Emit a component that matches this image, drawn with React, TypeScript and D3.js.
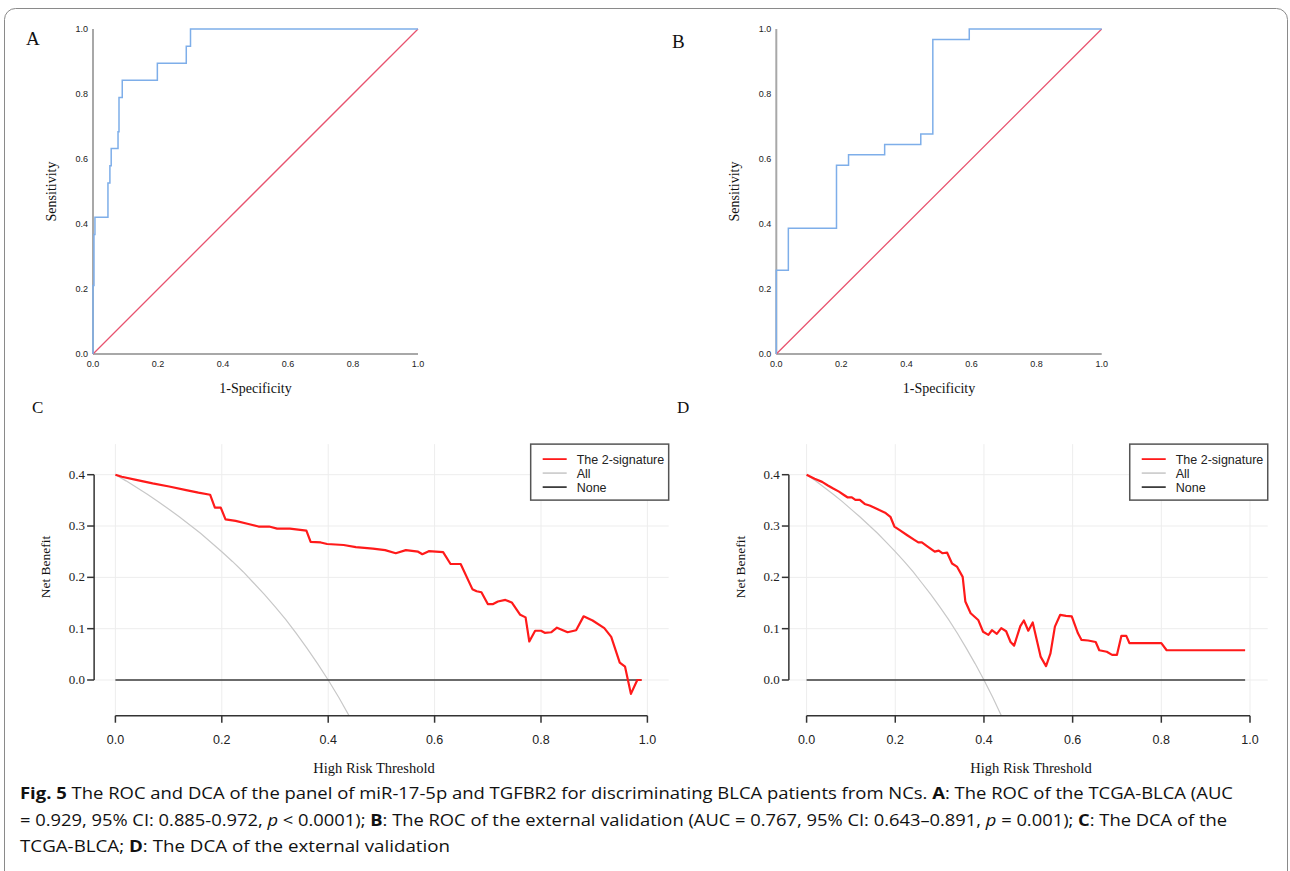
import React from "react";
import * as d3 from "d3";

const W = 1290;
const H = 871;
const SERIF = "'Liberation Serif', 'Times New Roman', serif";
const SANS = "'Liberation Sans', Arial, sans-serif";

// ROC corner points: 1-specificity / sensitivity
const rocAFpr = [0, 0, 0.003, 0.006, 0.046, 0.052, 0.056, 0.077, 0.08, 0.09, 0.198, 0.287, 0.3, 1.0];
const rocATpr = [0, 0.211, 0.368, 0.421, 0.526, 0.579, 0.632, 0.684, 0.789, 0.842, 0.895, 0.947, 1.0, 1.0];
const rocBFpr = [0, 0, 0.037, 0.185, 0.222, 0.333, 0.444, 0.481, 0.593, 1.0];
const rocBTpr = [0, 0.258, 0.387, 0.581, 0.613, 0.645, 0.677, 0.968, 1.0, 1.0];
const rocTicks = [0, 0.2, 0.4, 0.6, 0.8, 1.0];

// DCA, TCGA-BLCA
const dcaCThr = [0, 0.012, 0.039, 0.07, 0.101, 0.133, 0.156, 0.178, 0.187, 0.198, 0.207, 0.226, 0.25, 0.269, 0.289, 0.304, 0.328, 0.359, 0.367, 0.386, 0.398, 0.429, 0.452, 0.484, 0.507, 0.527, 0.546, 0.569, 0.577, 0.589, 0.616, 0.63, 0.649, 0.671, 0.679, 0.688, 0.7, 0.71, 0.719, 0.733, 0.745, 0.761, 0.771, 0.778, 0.789, 0.8, 0.807, 0.819, 0.83, 0.85, 0.866, 0.88, 0.897, 0.919, 0.932, 0.948, 0.958, 0.969, 0.981, 0.989];
const dcaCNb = [0.4, 0.396, 0.39, 0.383, 0.377, 0.37, 0.365, 0.361, 0.336, 0.336, 0.313, 0.31, 0.304, 0.299, 0.299, 0.295, 0.295, 0.291, 0.269, 0.268, 0.265, 0.263, 0.259, 0.256, 0.253, 0.247, 0.253, 0.25, 0.245, 0.251, 0.249, 0.226, 0.226, 0.177, 0.173, 0.171, 0.148, 0.148, 0.153, 0.156, 0.151, 0.127, 0.122, 0.075, 0.096, 0.096, 0.092, 0.093, 0.102, 0.093, 0.097, 0.124, 0.116, 0.101, 0.084, 0.034, 0.026, -0.027, 0.0, 0.0];

// DCA, external validation
const dcaDThr = [0, 0.018, 0.035, 0.048, 0.06, 0.073, 0.085, 0.092, 0.102, 0.11, 0.12, 0.131, 0.142, 0.152, 0.164, 0.177, 0.189, 0.198, 0.21, 0.227, 0.243, 0.252, 0.26, 0.273, 0.289, 0.298, 0.306, 0.317, 0.328, 0.339, 0.352, 0.358, 0.37, 0.387, 0.398, 0.41, 0.418, 0.429, 0.439, 0.45, 0.46, 0.468, 0.482, 0.49, 0.5, 0.51, 0.528, 0.54, 0.55, 0.56, 0.572, 0.585, 0.598, 0.612, 0.62, 0.635, 0.652, 0.66, 0.677, 0.689, 0.7, 0.71, 0.721, 0.728, 0.8, 0.812, 0.989];
const dcaDNb = [0.4, 0.392, 0.386, 0.379, 0.373, 0.367, 0.36, 0.356, 0.356, 0.351, 0.351, 0.343, 0.34, 0.336, 0.331, 0.326, 0.318, 0.299, 0.292, 0.282, 0.273, 0.268, 0.268, 0.26, 0.25, 0.252, 0.247, 0.248, 0.227, 0.221, 0.201, 0.153, 0.13, 0.117, 0.094, 0.088, 0.097, 0.09, 0.101, 0.095, 0.074, 0.067, 0.105, 0.116, 0.096, 0.112, 0.045, 0.027, 0.052, 0.104, 0.127, 0.125, 0.124, 0.091, 0.078, 0.077, 0.074, 0.058, 0.055, 0.049, 0.049, 0.086, 0.086, 0.072, 0.072, 0.058, 0.058];

// "All" (treat everyone) curve, same in both panels
const allThr = [0, 0.02, 0.04, 0.06, 0.08, 0.1, 0.12, 0.14, 0.16, 0.18, 0.2, 0.22, 0.24, 0.26, 0.28, 0.3, 0.32, 0.34, 0.36, 0.38, 0.4, 0.42, 0.44, 0.46];
const allNb = [0.4, 0.388, 0.375, 0.362, 0.348, 0.333, 0.318, 0.302, 0.286, 0.268, 0.25, 0.231, 0.211, 0.189, 0.167, 0.143, 0.118, 0.091, 0.062, 0.032, 0.0, -0.034, -0.071, -0.111];
const noneThr = [0, 0.989];
const noneNb = [0, 0];

const dcaXTicks = [0, 0.2, 0.4, 0.6, 0.8, 1.0];
const dcaYTicks = [0, 0.1, 0.2, 0.3, 0.4];
const legendNames = ["The 2-signature", "All", "None"];
const legendColors = ["#ff1a1a", "#cfcfcf", "#3d3d3d"];

const fmt = d3.format(".1f");

function RocPanel({ x0, x1, y0, y1, fpr, tpr, label, lx, ly }) {
  const x = d3.scaleLinear().domain([0, 1]).range([x0, x1]);
  const y = d3.scaleLinear().domain([0, 1]).range([y0, y1]);
  const pts = fpr.map((f, i) => [f, tpr[i]]);
  const roc = d3.line().x((d) => x(d[0])).y((d) => y(d[1])).curve(d3.curveStepAfter)(pts);
  const diag = d3.line().x((d) => x(d)).y((d) => y(d))([0, 1]);
  return (
    <g>
      <text x={lx} y={ly} fontFamily={SERIF} fontSize={19} fill="#111">{label}</text>
      <line x1={x0} x2={x0} y1={y1} y2={y0} stroke="#a8a8a8" strokeWidth={2} />
      <line x1={x0} x2={x1} y1={y0} y2={y0} stroke="#a8a8a8" strokeWidth={2} />
      {rocTicks.map((t) => (
        <text key={"y" + t} x={x0 - 5} y={y(t) + 3} textAnchor="end" fontFamily={SANS} fontSize={9} fill="#222">{fmt(t)}</text>
      ))}
      {rocTicks.map((t) => (
        <text key={"x" + t} x={x(t)} y={y0 + 13} textAnchor="middle" fontFamily={SANS} fontSize={9} fill="#222">{fmt(t)}</text>
      ))}
      <path d={diag} stroke="#e8536f" strokeWidth={1.3} fill="none" />
      <path d={roc} stroke="#7eaee9" strokeWidth={1.5} fill="none" />
      <text x={(x0 + x1) / 2} y={y0 + 39} textAnchor="middle" fontFamily={SERIF} fontSize={14} fill="#111">1-Specificity</text>
      <text transform={`translate(${x0 - 37},${(y0 + y1) / 2}) rotate(-90)`} textAnchor="middle" fontFamily={SERIF} fontSize={14} fill="#111">Sensitivity</text>
    </g>
  );
}

function DcaPanel({ x0, x1, thr, nb, label, lx, ly, id, titleX }) {
  const x = d3.scaleLinear().domain([0, 1]).range([x0, x1]);
  const y = d3.scaleLinear().domain([0, 0.4]).range([680, 474.7]);
  const left = x(-0.04);
  const right = x(1.04);
  const top = y(0.4596);
  const bottom = y(-0.0696);
  const ln = d3.line().x((d) => x(d[0])).y((d) => y(d[1]));
  const model = ln(thr.map((t, i) => [t, nb[i]]));
  const all = ln(allThr.map((t, i) => [t, allNb[i]]));
  const none = ln(noneThr.map((t, i) => [t, noneNb[i]]));
  const legW = 138;
  const legX = right - legW;
  return (
    <g>
      <defs>
        <clipPath id={id}>
          <rect x={left} y={top} width={right - left} height={bottom - top} />
        </clipPath>
      </defs>
      <text x={lx} y={ly} fontFamily={SERIF} fontSize={17} fill="#111">{label}</text>
      {dcaXTicks.map((t) => (
        <line key={"gx" + t} x1={x(t)} x2={x(t)} y1={top} y2={bottom} stroke="#ededed" strokeWidth={1} />
      ))}
      {dcaYTicks.map((t) => (
        <line key={"gy" + t} x1={left} x2={right} y1={y(t)} y2={y(t)} stroke="#ededed" strokeWidth={1} />
      ))}
      <g clipPath={`url(#${id})`}>
        <path d={all} stroke="#c8c8c8" strokeWidth={1.2} fill="none" />
        <path d={none} stroke="#3d3d3d" strokeWidth={1.5} fill="none" />
        <path d={model} stroke="#ff1a1a" strokeWidth={2.2} fill="none" strokeLinejoin="round" />
      </g>
      {/* y axis */}
      <line x1={left} x2={left} y1={y(0)} y2={y(0.4)} stroke="#333" strokeWidth={1.5} />
      {dcaYTicks.map((t) => (
        <g key={"yt" + t}>
          <line x1={left - 7} x2={left} y1={y(t)} y2={y(t)} stroke="#333" strokeWidth={1.5} />
          <text x={left - 9} y={y(t) + 4} textAnchor="end" fontFamily={SERIF} fontSize={13} fill="#222">{fmt(t)}</text>
        </g>
      ))}
      {/* x axis */}
      <line x1={x(0)} x2={x(1)} y1={bottom} y2={bottom} stroke="#333" strokeWidth={1.5} />
      {dcaXTicks.map((t) => (
        <g key={"xt" + t}>
          <line x1={x(t)} x2={x(t)} y1={bottom} y2={bottom + 7} stroke="#333" strokeWidth={1.5} />
          <text x={x(t)} y={bottom + 28} textAnchor="middle" fontFamily={SANS} fontSize={12.5} fill="#222">{fmt(t)}</text>
        </g>
      ))}
      <text x={titleX} y={bottom + 57} textAnchor="middle" fontFamily={SERIF} fontSize={14.5} fill="#111">High Risk Threshold</text>
      <text transform={`translate(${left - 44},567) rotate(-90)`} textAnchor="middle" fontFamily={SERIF} fontSize={13.5} fill="#111">Net Benefit</text>
      {/* legend */}
      <rect x={legX} y={top} width={legW} height={56} fill="#fff" stroke="#555" strokeWidth={1.5} />
      {legendNames.map((n, i) => (
        <g key={n}>
          <line x1={legX + 12} x2={legX + 36} y1={top + 15 + i * 14} y2={top + 15 + i * 14} stroke={legendColors[i]} strokeWidth={1.8} />
          <text x={legX + 46} y={top + 19.5 + i * 14} fontFamily={SANS} fontSize={12.5} fill="#222">{n}</text>
        </g>
      ))}
    </g>
  );
}

export default function App() {
  const cap = { fontFamily: "'Open Sans', sans-serif", fontSize: 16.5, fill: "#111" };
  return (
    <svg width={W} height={H} style={{ position: "absolute", left: 0, top: 0, background: "#fff" }}>
      <rect x={4.5} y={8.5} width={1283} height={880} rx={11} fill="none" stroke="#8a8a8a" strokeWidth={1} />
      <RocPanel x0={93} x1={418} y0={354} y1={29} fpr={rocAFpr} tpr={rocATpr} label="A" lx={26} ly={45} />
      <RocPanel x0={776.3} x1={1101.7} y0={354} y1={29} fpr={rocBFpr} tpr={rocBTpr} label="B" lx={672} ly={48} />
      <DcaPanel x0={115.4} x1={647.4} thr={dcaCThr} nb={dcaCNb} label="C" lx={32} ly={413} id="clipC" titleX={374} />
      <DcaPanel x0={806.6} x1={1250} thr={dcaDThr} nb={dcaDNb} label="D" lx={677} ly={413} id="clipD" titleX={1031} />
      <text x={20} y={799} textLength={1213} lengthAdjust="spacingAndGlyphs" {...cap}>
        <tspan fontWeight="bold">Fig. 5</tspan>{"  The ROC and DCA of the panel of miR-17-5p and TGFBR2 for discriminating BLCA patients from NCs. "}
        <tspan fontWeight="bold">A</tspan>{": The ROC of the TCGA-BLCA (AUC"}
      </text>
      <text x={20} y={825.5} textLength={1207} lengthAdjust="spacingAndGlyphs" {...cap}>
        {"= 0.929, 95% CI: 0.885-0.972, "}<tspan fontStyle="italic">p</tspan>{" < 0.0001); "}
        <tspan fontWeight="bold">B</tspan>{": The ROC of the external validation (AUC = 0.767, 95% CI: 0.643–0.891, "}
        <tspan fontStyle="italic">p</tspan>{" = 0.001); "}<tspan fontWeight="bold">C</tspan>{": The DCA of the"}
      </text>
      <text x={20} y={852} textLength={430} lengthAdjust="spacingAndGlyphs" {...cap}>
        {"TCGA-BLCA; "}<tspan fontWeight="bold">D</tspan>{": The DCA of the external validation"}
      </text>
    </svg>
  );
}
